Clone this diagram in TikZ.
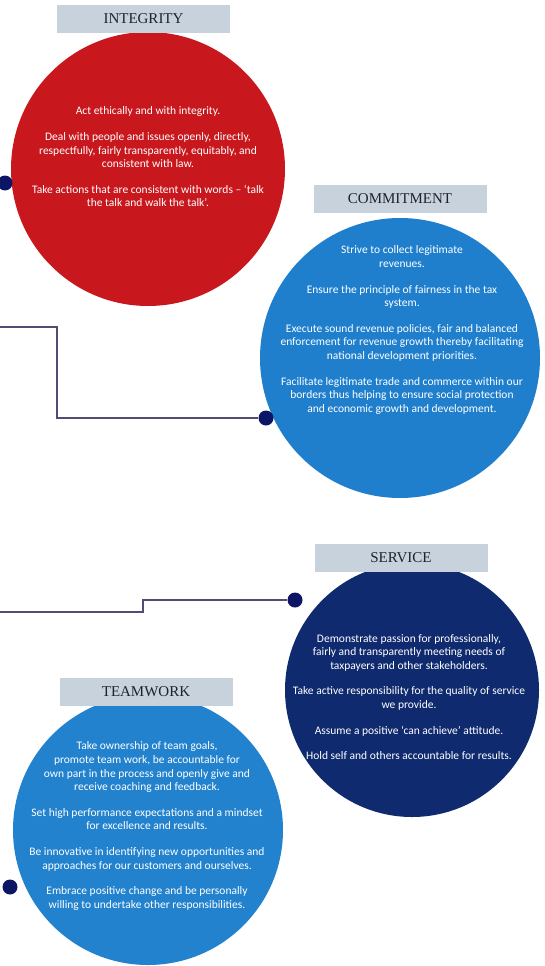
\documentclass[tikz,border=0pt]{standalone}
\usepackage{fontspec}
\setmainfont{Carlito}
\newfontfamily\titlefont{Liberation Serif}
\usepackage{tikz}
\usetikzlibrary{positioning}

\definecolor{intred}{RGB}{200,24,30}
\definecolor{commblue}{RGB}{31,127,205}
\definecolor{servnavy}{RGB}{15,42,110}
\definecolor{teamblue}{RGB}{34,130,206}
\definecolor{lblgrey}{RGB}{200,210,221}
\definecolor{titleink}{RGB}{30,34,48}
\definecolor{dotnavy}{RGB}{12,22,100}
\definecolor{linkgrey}{RGB}{78,78,112}

\begin{document}
\begin{tikzpicture}[
    x=1pt, y=-1pt,
    valcirc/.style={circle, inner sep=0pt},
    lbl/.style={fill=lblgrey, minimum width=173pt, minimum height=28pt,
                inner sep=0pt, text=titleink,
                font=\titlefont\fontsize{15}{15}\selectfont},
    body/.style={text=white, align=center, inner sep=0pt,
                 font=\fontsize{11.5}{13.6}\selectfont},
    dot/.style={circle, fill=dotnavy, inner sep=0pt, minimum size=15pt},
    link/.style={draw=linkgrey, line width=2.2pt}
  ]
  \useasboundingbox (0,0) rectangle (545,966);

  % Circles
  \node[valcirc, fill=intred, minimum size=274pt] (intcirc) at (148,169) {};
  \node[valcirc, fill=commblue, minimum size=280pt] (commcirc) at (400,358) {};
  \node[valcirc, fill=servnavy, minimum size=254pt] (servcirc) at (412,690) {};
  \node[valcirc, fill=teamblue, minimum size=270pt] (teamcirc) at (148,830) {};

  % Titles
  \node[lbl] (intlbl) at (143.5,19) {INTEGRITY};
  \node[lbl] (commlbl) at (400,198.5) {COMMITMENT};
  \node[lbl] (servlbl) at (401,557.5) {SERVICE};
  \node[lbl] (teamlbl) at (146,691.5) {TEAMWORK};

  % Texts
  \node[body] (inttxt) at (148,157) {%
    Act ethically and with integrity.\\[12pt]
    Deal with people and issues openly, directly,\\
    respectfully, fairly transparently, equitably, and\\
    consistent with law.\\[12pt]
    Take actions that are consistent with words -- `talk\\
    the talk and walk the talk'.};
  \node[body] (commtxt) at (402,330) {%
    Strive to collect legitimate\\
    revenues.\\[12pt]
    Ensure the principle of fairness in the tax\\
    system.\\[12pt]
    Execute sound revenue policies, fair and balanced\\
    enforcement for revenue growth thereby facilitating\\
    national development priorities.\\[12pt]
    Facilitate legitimate trade and commerce within our\\
    borders thus helping to ensure social protection\\
    and economic growth and development.};
  \node[body] (servtxt) at (409,697) {%
    Demonstrate passion for professionally,\\
    fairly and transparently meeting needs of\\
    taxpayers and other stakeholders.\\[12pt]
    Take active responsibility for the quality of service\\
    we provide.\\[12pt]
    Assume a positive `can achieve' attitude.\\[12pt]
    Hold self and others accountable for results.};
  \node[body] (teamtxt) at (147,826) {%
    Take ownership of team goals,\\
    promote team work, be accountable for\\
    own part in the process and openly give and\\
    receive coaching and feedback.\\[12pt]
    Set high performance expectations and a mindset\\
    for excellence and results.\\[12pt]
    Be innovative in identifying new opportunities and\\
    approaches for our customers and ourselves.\\[12pt]
    Embrace positive change and be personally\\
    willing to undertake other responsibilities.};

  % Dots and links
  \node[dot] (intdot) at (5,183) {};
  \node[dot] (commdot) at (266,418) {};
  \node[dot] (servdot) at (295,600) {};
  \node[dot] (teamdot) at (10,887) {};

  \coordinate (commin) at (0,327);
  \coordinate (commbend) at (57,327);
  \draw[link] (commin) -- (commbend) |- (commdot);
  \coordinate (servin) at (0,612);
  \coordinate (servbend) at (143,612);
  \draw[link] (servin) -- (servbend) |- (servdot);
\end{tikzpicture}
\end{document}
